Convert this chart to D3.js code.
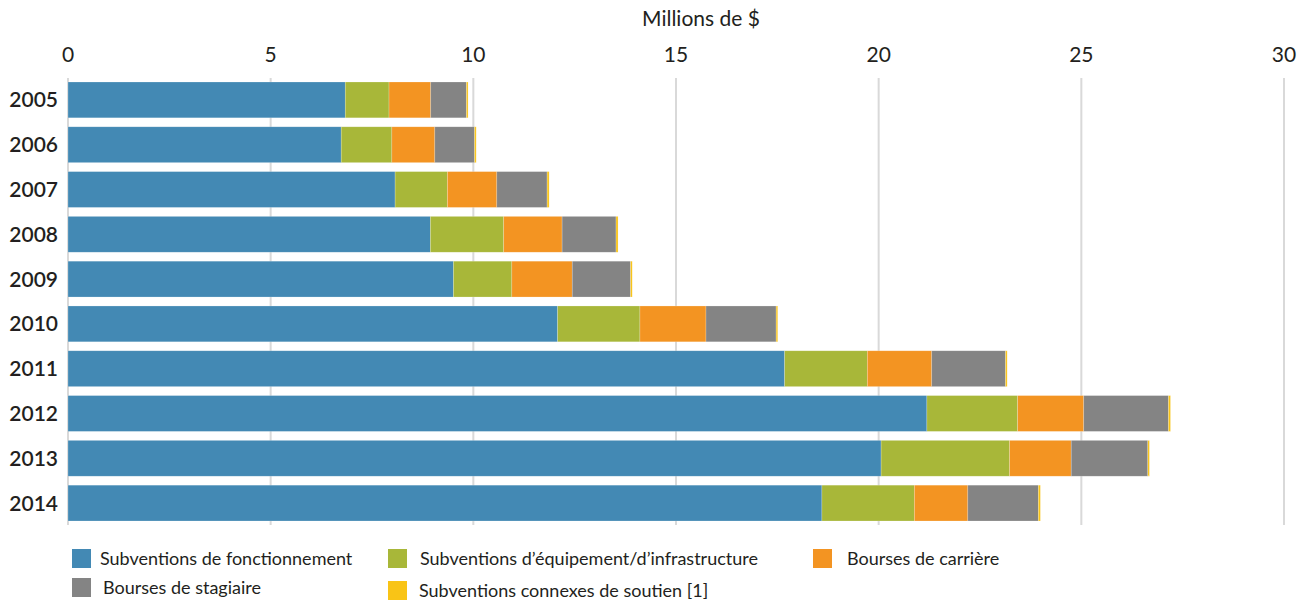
<!DOCTYPE html>
<html>
<head>
<meta charset="utf-8">
<script src="https://cdn.jsdelivr.net/npm/d3@7"></script>
<style>
  body { margin: 0; background: #fff; }
  text { font-family: Lato, "Open Sans", sans-serif; fill: #231f20; }
</style>
</head>
<body>
<div id="chart"></div>
<script>
const years = ['2005', '2006', '2007', '2008', '2009', '2010', '2011', '2012', '2013', '2014'];
const seriesNames = [
  'Subventions de fonctionnement',
  'Subventions d\u2019\u00e9quipement/d\u2019infrastructure',
  'Bourses de carri\u00e8re',
  'Bourses de stagiaire',
  'Subventions connexes de soutien [1]'
];
// values in millions of dollars, one array per series, in year order
const fonctionnement = [6.84, 6.74, 8.07, 8.94, 9.51, 12.08, 17.68, 21.19, 20.06, 18.60];
const equipement     = [1.08, 1.25, 1.29, 1.81, 1.44, 2.03, 2.04, 2.24, 3.17, 2.28];
const carriere       = [1.03, 1.06, 1.22, 1.44, 1.49, 1.63, 1.59, 1.63, 1.52, 1.32];
const stagiaire      = [0.88, 0.98, 1.24, 1.33, 1.44, 1.73, 1.82, 2.09, 1.89, 1.74];
const connexes       = [0.04, 0.04, 0.05, 0.05, 0.04, 0.04, 0.04, 0.05, 0.04, 0.05];
const xTicks = [0, 5, 10, 15, 20, 25, 30];
const colors = ['#4389b4', '#a8b739', '#f39422', '#848484', '#f9c416'];

const width = 1306, height = 605;

const svg = d3.select('#chart')
  .append('svg')
  .attr('width', width)
  .attr('height', height);

const keys = ['f', 'e', 'c', 's', 'x'];
const rows = years.map((y, i) => ({
  year: y,
  f: fonctionnement[i], e: equipement[i], c: carriere[i], s: stagiaire[i], x: connexes[i]
}));
const stacked = d3.stack().keys(keys)(rows);

const x = d3.scaleLinear()
  .domain([0, 30])
  .range([68, 1284]);

const y = d3.scaleBand()
  .domain(years)
  .range([82, 521])
  .paddingInner(0.2)
  .paddingOuter(0);

// vertical grid
svg.append('g')
  .selectAll('line')
  .data(xTicks)
  .enter()
  .append('line')
  .attr('x1', d => x(d))
  .attr('x2', d => x(d))
  .attr('y1', 78)
  .attr('y2', 525)
  .attr('stroke', '#d9d9d9')
  .attr('stroke-width', 2);

// top axis labels
svg.append('g')
  .selectAll('text')
  .data(xTicks)
  .enter()
  .append('text')
  .attr('x', d => x(d))
  .attr('y', 62)
  .attr('text-anchor', 'middle')
  .style('font-size', '21px')
  .text(d => d);

svg.append('text')
  .attr('x', 701)
  .attr('y', 26)
  .attr('text-anchor', 'middle')
  .style('font-size', '21px')
  .text('Millions de $');

// bars
svg.append('g')
  .selectAll('g')
  .data(stacked)
  .enter()
  .append('g')
  .attr('fill', (d, i) => colors[i])
  .selectAll('rect')
  .data(d => d)
  .enter()
  .append('rect')
  .attr('x', d => x(d[0]))
  .attr('y', d => y(d.data.year))
  .attr('width', d => x(d[1]) - x(d[0]))
  .attr('height', y.bandwidth())
  .attr('stroke', '#ffffff')
  .attr('stroke-opacity', 0.35)
  .attr('stroke-width', 0.6);

// year labels
svg.append('g')
  .selectAll('text')
  .data(years)
  .enter()
  .append('text')
  .attr('x', 58)
  .attr('y', d => y(d) + y.bandwidth() / 2)
  .attr('dy', '0.36em')
  .attr('text-anchor', 'end')
  .style('font-size', '21px')
  .style('font-weight', 600)
  .text(d => d);

// legend
const legendPos = [
  { x: 72, y: 549, tx: 100 },
  { x: 388, y: 549, tx: 420 },
  { x: 813, y: 549, tx: 847 },
  { x: 72, y: 578, tx: 103 },
  { x: 388, y: 581, tx: 419 }
];
const legend = svg.append('g')
  .selectAll('g')
  .data(seriesNames)
  .enter()
  .append('g');
legend.append('rect')
  .attr('x', (d, i) => legendPos[i].x)
  .attr('y', (d, i) => legendPos[i].y)
  .attr('width', 19)
  .attr('height', 19)
  .attr('fill', (d, i) => colors[i]);
legend.append('text')
  .attr('x', (d, i) => legendPos[i].tx)
  .attr('y', (d, i) => legendPos[i].y + 9.5)
  .attr('dy', '0.36em')
  .style('font-size', '18px')
  .text(d => d);
</script>
</body>
</html>
